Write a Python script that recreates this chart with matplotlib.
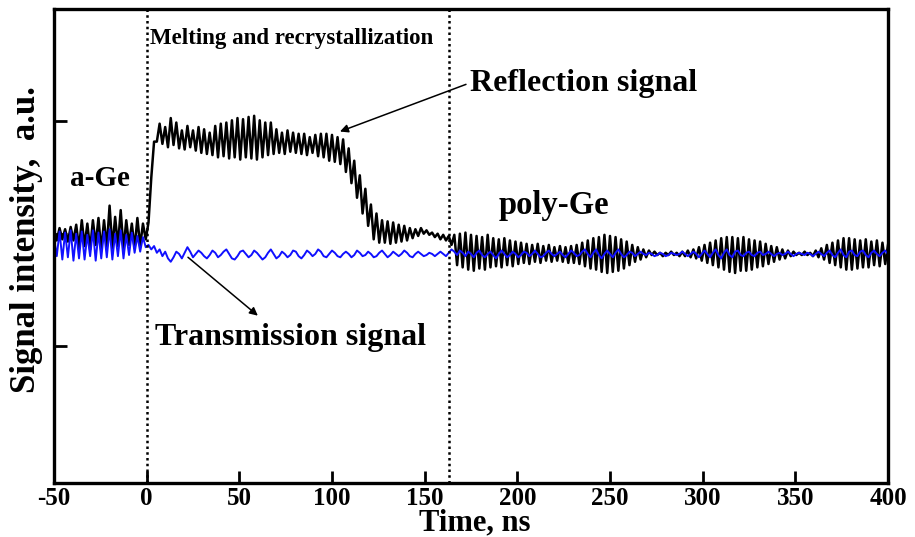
import numpy as np
import matplotlib
matplotlib.use("Agg")
import matplotlib.pyplot as plt

plt.rcParams['font.family'] = ['Liberation Serif', 'DejaVu Serif']
plt.rcParams['font.weight'] = 'bold'

# reflection signal, sampled every 1.5 ns from -50 to 400 ns (a.u.)
refl = [
    # -50 .. -38 ns
    203, 194, 205, 195, 204, 193, 206, 194, 208,
    # -36.5 .. -0.5 ns (a-Ge)
    187, 212, 189, 209, 186, 212, 190, 214, 185, 212, 188, 225, 187,
    215, 189, 221, 186, 212, 190, 209, 187, 214, 189, 209, 195,
    # rise after the pulse
    210, 250, 282,
    # molten plateau, 5.5 .. 103 ns
    282, 298, 280, 295, 277, 303, 279, 299, 276, 292, 275, 296, 277,
    292, 274, 295, 272, 293, 271, 290, 270, 296, 268, 298, 269, 299,
    267, 301, 268, 303, 266, 302, 268, 304, 267, 305, 266, 301, 268,
    299, 270, 299, 271, 293, 272, 290, 271, 292, 273, 290, 272, 289,
    271, 289, 270, 286, 272, 288, 269, 289, 268, 289, 265, 288, 264,
    286,
    # fall, 104.5 .. 125.5 ns
    262, 284, 255, 276, 245, 265, 232, 252, 218, 240, 207, 226, 195,
    218, 192,
    # 127 .. 164.5 ns
    212, 192, 211, 191, 210, 192, 208, 193, 207, 194, 205, 196, 204,
    198, 205, 200, 203, 199, 201, 197, 200, 195, 199, 194, 198, 190,
    # poly-Ge, 166 .. 229 ns
    199, 172, 200, 170, 201, 168, 199, 167, 198, 169, 197, 168, 199,
    170, 196, 171, 195, 170, 196, 172, 194, 171, 193, 173, 192, 174,
    191, 173, 190, 175, 191, 174, 189, 176, 190, 175, 188, 176, 189,
    175, 188, 174, 189,
    # 230.5 .. 271 ns
    174, 190, 173, 192, 171, 194, 169, 196, 168, 197, 166, 199, 165,
    198, 166, 197, 167, 195, 169, 193, 172, 190, 175, 188, 177, 186,
    179, 185,
    # 272.5 .. 296.5 ns
    181, 184, 181, 183, 180, 183, 181, 184, 181, 183, 180, 184, 180,
    185, 179, 186, 178,
    # 298 .. 350.5 ns
    188, 176, 190, 174, 192, 172, 194, 170, 196, 168, 197, 166, 197,
    165, 196, 167, 197, 167, 195, 168, 194, 170, 193, 171, 191, 173,
    189, 175, 188, 177, 186, 178, 185, 180, 184, 181,
    # 352 .. 362.5 ns
    183, 181, 184, 181, 183, 180, 185, 179,
    # 364 .. 400 ns
    187, 177, 190, 174, 192, 172, 194, 170, 196, 168, 196, 168, 195,
    169, 194, 170, 195, 170, 193, 172, 194, 171, 192, 173, 190,
]

# transmission signal, same sampling
trans = [
    196, 180, 202, 177, 201, 179, 203, 176, 200, 178, 202, 177, 199,
    180, 203, 176, 201, 178, 202, 179, 204, 177, 200, 180, 203, 178,
    199, 181, 201, 183, 198, 184, 197, 188,
    190, 186, 189, 183, 186, 180, 184,
    178, 175, 179, 184, 182, 178, 183, 188, 184, 179,
    182, 185, 183, 180, 178, 181, 185, 183, 179, 181, 184, 186, 182,
    178, 177, 180, 184, 185, 182, 179, 181, 185, 183, 180,
    177, 179, 183, 186, 182, 178, 180, 184, 182, 179, 181, 185, 184,
    180, 178, 181, 185, 183, 180, 182, 186, 184, 180, 179, 182, 185,
    183, 180, 179, 182, 184, 182, 179, 181, 185, 183, 180, 181, 184,
    182, 179, 180, 183, 185, 182, 179, 181, 184, 182, 180, 182, 185,
    183, 180, 179, 182, 184, 182, 180, 181, 183, 182, 180, 182, 184,
    182,
    180, 183, 186, 184, 181, 185, 183, 180, 184, 182, 179, 183, 185,
    181, 179, 182, 184, 181, 178, 182, 185, 182, 179, 181, 184, 182,
    179, 181, 184, 183, 180, 182, 185, 182, 179, 180, 183, 185, 182,
    180, 182, 184, 181, 179, 182, 185, 183, 180, 181, 184, 186, 182,
    179, 183, 186, 181, 178, 182, 185, 182, 179, 183, 186, 182, 179,
    181, 184, 183, 180, 182, 184, 182, 181, 183, 182, 180, 181, 183,
    182, 180, 181, 183, 182, 181, 182, 184, 182, 180, 182, 184, 182,
    179, 182, 185, 182, 179, 183, 186, 181, 178, 183, 186, 181, 179,
    184, 185, 181, 180, 183, 184, 181, 180, 183, 184, 181, 182, 184,
    182, 180, 182, 183, 181, 182, 184, 182, 180, 182, 183, 182, 181,
    183, 182, 180, 182, 184, 182, 180, 183, 185, 181, 179, 183, 186,
    181, 179, 184, 185, 181, 180, 184, 185, 181, 179, 183, 185, 182,
    180, 183, 185, 182,
]

t_refl = np.linspace(-50, 400, len(refl))
t_trans = np.linspace(-50, 400, len(trans))

x_ticks = [-50, 0, 50, 100, 150, 200, 250, 300, 350, 400]
phase_lines = [0, 163]

fig = plt.figure(figsize=(9.15, 5.37), dpi=100)
ax = fig.add_axes([0.059, 0.1006, 0.9115, 0.8824])

ax.plot(t_refl, refl, color='black', lw=1.8)
ax.plot(t_trans, trans, color='#1010ff', lw=1.4)

for xv in phase_lines:
    ax.axvline(xv, color='black', lw=1.8, ls=(0, (1, 1.3)))

ax.set_xlim(-50, 400)
ax.set_ylim(-22, 400)
ax.set_xticks(x_ticks)
ax.set_xticklabels([str(v) for v in x_ticks])
ax.set_yticks([100, 200, 300])
ax.set_yticklabels([])
ax.tick_params(direction='in', length=9, width=2, labelsize=18, pad=3)
for s in ax.spines.values():
    s.set_linewidth(2.4)

fig.text(475 / 915, 1 - 530 / 537, 'Time, ns', fontsize=22, fontweight='bold',
         ha='center', va='baseline')
fig.text(27 / 915, 1 - 240 / 537, 'Signal intensity,  a.u.', fontsize=25,
         fontweight='bold', ha='center', va='center', rotation=90)

ax.text(1.8, 374, 'Melting and recrystallization', fontsize=16.5, fontweight='bold',
        va='center', ha='left')
ax.text(-41.4, 249, 'a-Ge', fontsize=21, fontweight='bold', va='center')
ax.text(190, 225, 'poly-Ge', fontsize=23.5, fontweight='bold', va='center')
ax.text(174.4, 334, 'Reflection signal', fontsize=23, fontweight='bold', va='center')
ax.text(4.5, 108, 'Transmission signal', fontsize=23, fontweight='bold', va='center')

ax.annotate('', xy=(104.3, 291), xytext=(172.3, 333),
            arrowprops=dict(arrowstyle='-|>', color='black', lw=1.1,
                            mutation_scale=12, shrinkA=0, shrinkB=0))
ax.annotate('', xy=(60, 127), xytext=(22.3, 179),
            arrowprops=dict(arrowstyle='-|>', color='black', lw=1.1,
                            mutation_scale=12, shrinkA=0, shrinkB=0))

fig.savefig('out.png', dpi=100)
